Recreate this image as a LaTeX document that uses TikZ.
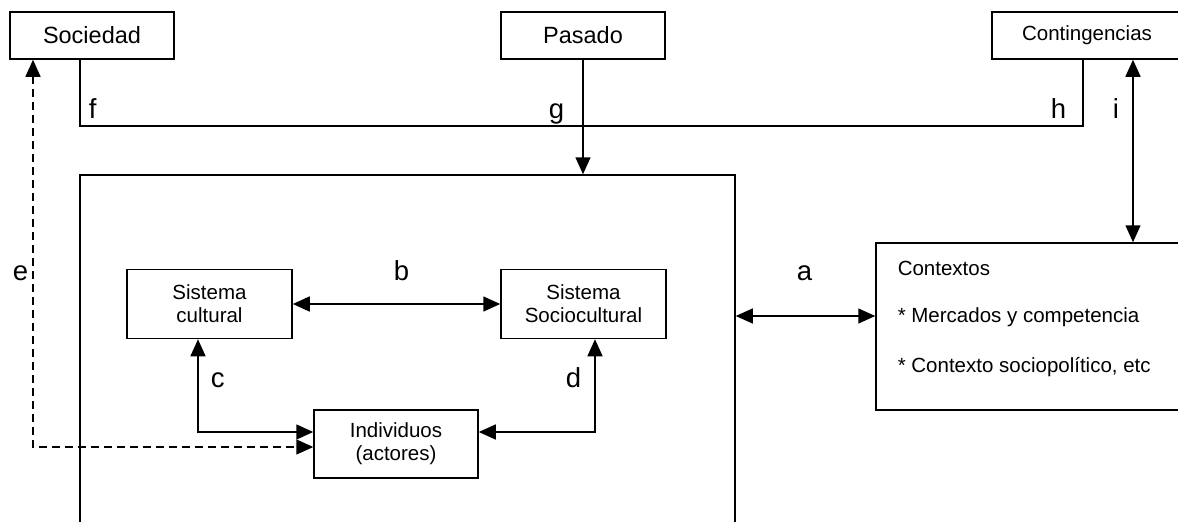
\documentclass[tikz,border=0pt]{standalone}
\usepackage{fontspec}
\setmainfont{Liberation Sans}
\usetikzlibrary{arrows.meta}
\begin{document}
\begin{tikzpicture}[x=1pt,y=-1pt,
  line width=1.5pt,
  tri/.tip={Triangle[length=17pt,width=15pt]},
  box/.style={draw,rectangle,inner sep=0pt,align=center},
  topbox/.style={box,minimum height=47pt,font=\fontsize{23.5}{28}\selectfont},
  innerbox/.style={box,minimum width=165pt,minimum height=69pt,font=\fontsize{20.5}{23}\selectfont},
  letter/.style={inner sep=0pt,anchor=base west,font=\fontsize{27.5}{30}\selectfont},
  ctxtext/.style={inner sep=0pt,anchor=base west,font=\fontsize{20.5}{24}\selectfont},
  dbl/.style={{tri}-{tri}},
  one/.style={-{tri}},
  dashline/.style={dash pattern=on 8pt off 5pt}
]
\useasboundingbox (0,0) rectangle (1178,522);

% top row
\node[topbox,minimum width=164pt] (soc) at (92,35.5) {Sociedad};
\node[topbox,minimum width=164pt] (pas) at (583,35.5) {Pasado};
\node[box,minimum width=190pt,minimum height=47pt,font=\fontsize{20.5}{24}\selectfont] (con) at (1087,35.5) {Contingencias};

% organisation frame (open at the bottom)
\node[box,minimum width=655pt,minimum height=390pt] (org) at (407.5,370) {};

% contexts box
\node[box,minimum width=314pt,minimum height=167pt] (ctx) at (1033,326.5) {};
\node[ctxtext] (ctx1) at (897,275) {Contextos};
\node[ctxtext] (ctx2) at (897,322) {* Mercados y competencia};
\node[ctxtext] (ctx3) at (897,372) {* Contexto sociopolítico, etc};

% inner systems
\node[innerbox] (sc) at (209.5,304) {Sistema\\cultural};
\node[innerbox] (ssc) at (583.5,304) {Sistema\\Sociocultural};
\node[innerbox,minimum width=164pt,minimum height=68pt] (ind) at (396,444) {Individuos\\(actores)};

% helper coordinates for bends
\coordinate (fcorner) at (80,126);
\coordinate (hcorner) at (1083,126);
\coordinate (ccorner) at (198,432);
\coordinate (dcorner) at (595,432);
\coordinate (ecorner) at (33,447);

% f-g-h bar
\draw (soc.south -| fcorner) -- (fcorner) -- (hcorner) -- (con.south -| hcorner);
% g
\draw[one] (pas.south) -- (pas.south |- org.north);
% i
\draw[dbl] (con.south -| 1133,0) -- (ctx.north -| 1133,0);
% a
\draw[dbl] (org.east |- 0,316) -- (ctx.west |- 0,316);
% b
\draw[dbl] (sc.east) -- (ssc.west);
% c
\draw[dbl] (sc.south -| ccorner) -- (ccorner) -- (ind.west |- ccorner);
% d
\draw[dbl] (ssc.south -| dcorner) -- (dcorner) -- (ind.east |- dcorner);
% e
\draw[dbl,dashline] (soc.south -| ecorner) -- (ecorner) -- (ind.west |- ecorner);

% labels
\node[letter] (lf) at (88,118) {f};
\node[letter] (lg) at (548,118) {g};
\node[letter] (lh) at (1050,118) {h};
\node[letter] (li) at (1112,118) {i};
\node[letter] (le) at (12,280) {e};
\node[letter] (lb) at (393,280) {b};
\node[letter] (la) at (796,280) {a};
\node[letter] (lc) at (210,387) {c};
\node[letter] (ld) at (565,387) {d};
\end{tikzpicture}
\end{document}
